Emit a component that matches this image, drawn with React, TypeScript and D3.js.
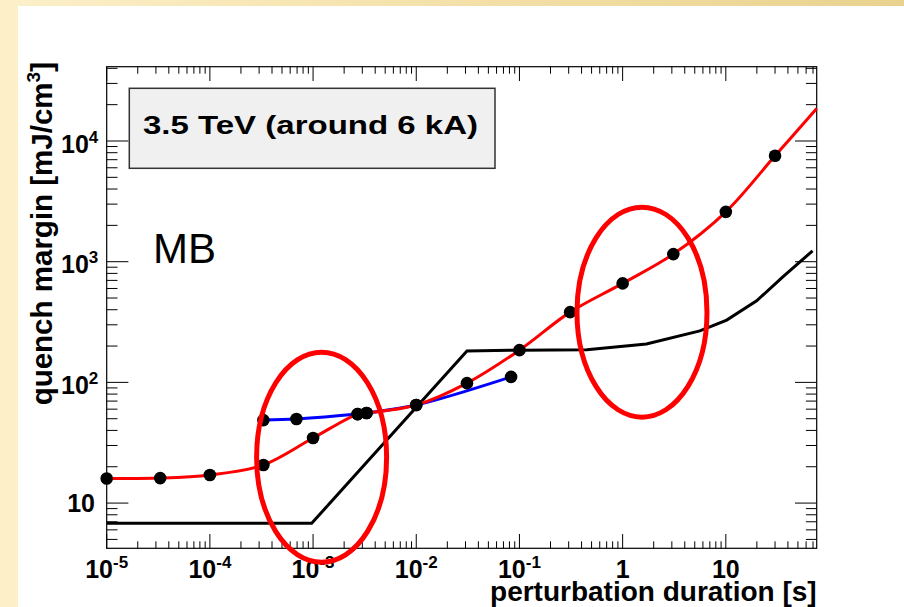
import React, { useEffect, useRef } from "react";
import * as d3 from "d3";

// red: quench margin measurements with fit line
const redDuration = [1e-5, 3.3e-5, 1e-4, 3.3e-4, 1e-3, 2.7e-3, 3.3e-3, 1e-2, 3.1e-2, 0.1, 0.31, 1, 3.1, 10, 30];
const redMargin = [16.0, 16.1, 17.1, 20.7, 34.6, 54.6, 55.7, 64.9, 98.6, 185, 382, 661, 1156, 2588, 7540];
// red fit continues to the right edge without a marker
const redTailDuration = [76];
const redTailMargin = [18600];

// blue: short-pulse branch
const blueDuration = [3.3e-4, 6.9e-4, 2.7e-3, 3.3e-3, 1e-2, 8.3e-2];
const blueMargin = [48.7, 49.7, 54.6, 55.7, 64.9, 111];

// black: reference curve (no markers)
const blackDuration = [1e-5, 9.7e-4, 3.1e-2, 0.1, 0.45, 1.7, 5.6, 10.2, 19.9, 35.7, 69.3];
const blackMargin = [6.8, 6.8, 182, 185, 186, 208, 267, 328, 474, 750, 1230];

// highlighted regions (centre in data units)
const ringDuration = [1.21e-3, 1.54];
const ringMargin = [24, 382];

const xTickValues = [1e-5, 1e-4, 1e-3, 1e-2, 1e-1, 1, 10];
const xTickLabels = [["10", "-5"], ["10", "-4"], ["10", "-3"], ["10", "-2"], ["10", "-1"], ["1", ""], ["10", ""]];
const yTickValues = [10, 100, 1000, 10000];
const yTickLabels = [["10", ""], ["10", "2"], ["10", "3"], ["10", "4"]];

const xTitle = "perturbation duration [s]";
const yTitle = ["quench margin [mJ/cm", "3", "]"];
const boxLabel = "3.5 TeV (around 6 kA)";
const magnetLabel = "MB";

const W = 904;
const H = 607;
const frame = { left: 106.7, right: 816.7, top: 66.7, bottom: 548.3 };
const font = "'Liberation Sans', Arial, Helvetica, sans-serif";

const draw = (node: SVGSVGElement) => {
  const svg = d3.select(node);
  svg.selectAll("*").remove();

  const x = d3.scaleLog().domain([1e-5, 76]).range([frame.left, frame.right]);
  const y = d3.scaleLog().domain([4.22, 41270]).range([frame.bottom, frame.top]);

  // slide background
  const defs = svg.append("defs");
  const grad = defs.append("linearGradient").attr("id", "topband").attr("x1", "0").attr("x2", "1");
  grad.append("stop").attr("offset", "0").attr("stop-color", "#fcf0c9");
  grad.append("stop").attr("offset", "0.5").attr("stop-color", "#f4e1a9");
  grad.append("stop").attr("offset", "1").attr("stop-color", "#e9d28f");
  svg.append("rect").attr("width", W).attr("height", H).attr("fill", "#ffffff");
  svg.append("rect").attr("width", W).attr("height", 6).attr("fill", "url(#topband)");
  svg.append("rect").attr("width", 18).attr("height", H).attr("fill", "#fdefc7");

  const isMajor = (v: number) => Math.abs(Math.log10(v) - Math.round(Math.log10(v))) < 1e-6;

  // ticks on all four sides
  const axes = svg.append("g").attr("stroke", "#000").attr("stroke-width", 1);
  x.ticks().forEach(v => {
    const len = isMajor(v) ? 14.3 : 7;
    const px = x(v);
    axes.append("line").attr("x1", px).attr("x2", px).attr("y1", frame.bottom).attr("y2", frame.bottom - len);
    axes.append("line").attr("x1", px).attr("x2", px).attr("y1", frame.top).attr("y2", frame.top + len);
  });
  y.ticks().forEach(v => {
    const len = isMajor(v) ? 21.7 : 10.8;
    const py = y(v);
    axes.append("line").attr("x1", frame.left).attr("x2", frame.left + len).attr("y1", py).attr("y2", py);
    axes.append("line").attr("x1", frame.right).attr("x2", frame.right - len).attr("y1", py).attr("y2", py);
  });
  svg
    .append("rect")
    .attr("x", frame.left)
    .attr("y", frame.top)
    .attr("width", frame.right - frame.left)
    .attr("height", frame.bottom - frame.top)
    .attr("fill", "none")
    .attr("stroke", "#000")
    .attr("stroke-width", 1.2);

  // tick labels
  const labels = svg.append("g").attr("font-family", font).attr("font-weight", "bold").attr("fill", "#000");
  xTickValues.forEach((v, i) => {
    const [base, sup] = xTickLabels[i];
    const t = labels.append("text").attr("x", x(v)).attr("y", 578).attr("text-anchor", "middle").attr("font-size", 25);
    t.append("tspan").text(base);
    if (sup) t.append("tspan").attr("font-size", 17).attr("dy", -10).text(sup);
  });
  yTickValues.forEach((v, i) => {
    const [base, sup] = yTickLabels[i];
    const t = labels
      .append("text")
      .attr("x", sup ? 98.3 : 95)
      .attr("y", y(v) + (sup ? 11.7 : 8.7))
      .attr("text-anchor", "end")
      .attr("font-size", 25);
    t.append("tspan").text(base);
    if (sup) t.append("tspan").attr("font-size", 17).attr("dy", -10).text(sup);
  });

  // axis titles
  labels
    .append("text")
    .attr("x", frame.right)
    .attr("y", 601)
    .attr("text-anchor", "end")
    .attr("font-size", 28)
    .text(xTitle);
  const yt = labels
    .append("text")
    .attr("transform", "translate(52,62) rotate(-90)")
    .attr("text-anchor", "end")
    .attr("font-size", 29.5);
  yt.append("tspan").text(yTitle[0]);
  yt.append("tspan").attr("font-size", 19).attr("dy", -12).text(yTitle[1]);
  yt.append("tspan").attr("dy", 12).text(yTitle[2]);

  // label box
  svg
    .append("rect")
    .attr("x", 129.3)
    .attr("y", 88.3)
    .attr("width", 365.7)
    .attr("height", 80)
    .attr("fill", "#f0f0f0")
    .attr("stroke", "#333")
    .attr("stroke-width", 1.5);
  svg
    .append("text")
    .attr("x", 143)
    .attr("y", 134)
    .attr("font-family", font)
    .attr("font-weight", "bold")
    .attr("font-size", 26.5)
    .attr("textLength", 335)
    .attr("lengthAdjust", "spacingAndGlyphs")
    .text(boxLabel);
  svg
    .append("text")
    .attr("x", 153)
    .attr("y", 263.3)
    .attr("font-family", font)
    .attr("font-size", 42)
    .text(magnetLabel);

  // curves
  const line = d3
    .line<[number, number]>()
    .x(d => x(d[0]))
    .y(d => y(d[1]));
  const zip = (a: number[], b: number[]) => a.map((v, i) => [v, b[i]] as [number, number]);
  const red = zip(redDuration, redMargin);
  const redAll = red.concat(zip(redTailDuration, redTailMargin));
  const blue = zip(blueDuration, blueMargin);
  const black = zip(blackDuration, blackMargin);

  svg
    .append("path")
    .attr("d", line.curve(d3.curveCatmullRom.alpha(0.5))(blue))
    .attr("fill", "none")
    .attr("stroke", "#0000ff")
    .attr("stroke-width", 3);
  svg
    .append("path")
    .attr("d", line.curve(d3.curveLinear)(black))
    .attr("fill", "none")
    .attr("stroke", "#000")
    .attr("stroke-width", 3);
  svg
    .append("path")
    .attr("d", line.curve(d3.curveCatmullRom.alpha(0.5))(redAll))
    .attr("fill", "none")
    .attr("stroke", "#ff0000")
    .attr("stroke-width", 3);

  svg
    .append("g")
    .selectAll("circle")
    .data(red.concat(blue))
    .enter()
    .append("circle")
    .attr("cx", d => x(d[0]))
    .attr("cy", d => y(d[1]))
    .attr("r", 6.3)
    .attr("fill", "#000");

  // annotation rings
  svg
    .append("g")
    .selectAll("ellipse")
    .data(zip(ringDuration, ringMargin))
    .enter()
    .append("ellipse")
    .attr("cx", d => x(d[0]))
    .attr("cy", d => y(d[1]))
    .attr("rx", 65)
    .attr("ry", 105)
    .attr("fill", "none")
    .attr("stroke", "#ff0000")
    .attr("stroke-width", 5);
};

const App = () => {
  const ref = useRef<SVGSVGElement>(null);
  useEffect(() => {
    if (ref.current) draw(ref.current);
  }, []);
  return (
    <svg
      ref={ref}
      width={W}
      height={H}
      style={{ position: "absolute", left: 0, top: 0, display: "block" }}
    />
  );
};

export default App;
